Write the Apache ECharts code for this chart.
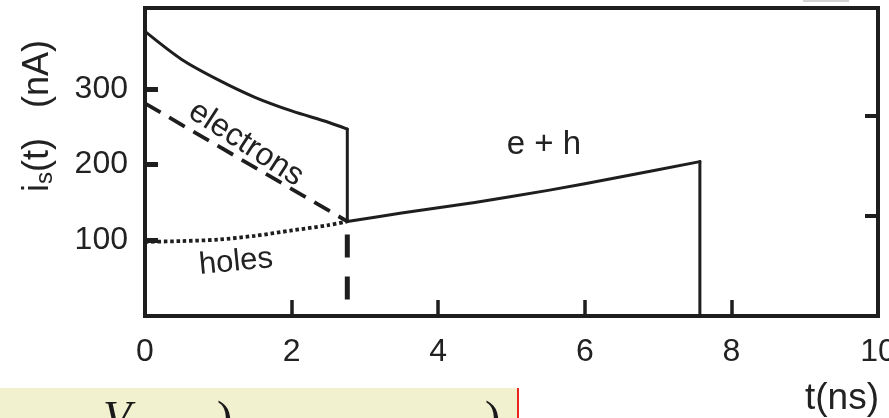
<!DOCTYPE html>
<html>
<head>
<meta charset="utf-8">
<script src="https://cdn.jsdelivr.net/npm/echarts@6/dist/echarts.min.js"></script>
<style>
  html, body { margin: 0; padding: 0; background: #ffffff; }
  #chart { width: 889px; height: 418px; }
</style>
</head>
<body>
<div id="chart"></div>
<script>
// Induced signal current i_s(t) of a detector: electrons + holes drifting, t in ns, i in nA
const xTickInterval = 2;
const leftTickValues = [100, 200, 300];
const rightTickValues = [132, 265];

// total current while both carriers drift
const totalEarly = [[0, 376], [0.5, 339], [1, 312], [1.5, 289], [2, 271], [2.5, 256], [2.76, 247]];
// electrons collected: current drops to the hole part
const electronExitDrop = [[2.76, 247], [2.76, 125]];
// e + h branch after the drop
const totalLate = [[2.76, 125], [3.5, 136], [4.5, 150], [5.5, 166], [6.5, 184], [7.57, 204]];
// holes collected: signal ends
const signalEnd = [[7.57, 204], [7.57, 0]];
// individual carrier contributions
const electrons = [[0, 281], [2.76, 125]];
const holes = [[0, 98], [0.5, 99], [1, 101], [1.5, 106], [2, 113], [2.5, 120], [2.76, 125]];
// marker of the electron collection time
const electronExitMarker = [[2.76, 125], [2.76, 0]];

const INK = '#1e1e1e';
const SANS = '"Liberation Sans Narrow", "Liberation Sans", sans-serif';

const chart = echarts.init(document.getElementById('chart'), null, { renderer: 'canvas' });

function solid(data, smooth) {
  return {
    type: 'line', data: data, symbol: 'none', silent: true,
    smooth: smooth ? 0.3 : false,
    lineStyle: { color: INK, width: 3, cap: 'round', join: 'round' }
  };
}

chart.setOption({
  animation: false,
  grid: {
    left: 145, right: 11, top: 8, bottom: 102,
    show: true, borderColor: INK, borderWidth: 4, backgroundColor: 'transparent',
    containLabel: false, outerBoundsMode: 'none'
  },
  xAxis: {
    type: 'value', min: 0, max: 10, interval: xTickInterval,
    axisLine: { show: false },
    axisTick: { show: true, inside: true, length: 16, lineStyle: { color: INK, width: 3.5 } },
    axisLabel: { fontSize: 32, fontFamily: SANS, color: '#222', margin: 20 },
    splitLine: { show: false }
  },
  yAxis: [
    {
      type: 'value', min: 0, max: 407, position: 'left',
      axisLine: { show: false },
      axisTick: { show: true, inside: true, length: 13, customValues: leftTickValues,
                  lineStyle: { color: INK, width: 5 } },
      axisLabel: { fontSize: 32, fontFamily: SANS, color: '#222', margin: 17,
                   customValues: leftTickValues },
      splitLine: { show: false }
    },
    {
      type: 'value', min: 0, max: 407, position: 'right',
      axisLine: { show: false },
      axisTick: { show: true, inside: true, length: 13, customValues: rightTickValues,
                  lineStyle: { color: INK, width: 4 } },
      axisLabel: { show: false },
      splitLine: { show: false }
    }
  ],
  series: [
    solid(totalEarly, true),
    solid(electronExitDrop, false),
    solid(totalLate, true),
    solid(signalEnd, false),
    {
      type: 'line', data: electrons, symbol: 'none', silent: true,
      lineStyle: { color: INK, width: 3.8, type: [18, 10] }
    },
    {
      type: 'line', data: holes, symbol: 'none', silent: true, smooth: 0.3,
      lineStyle: { color: INK, width: 3.8, type: [3.5, 2.8] }
    },
    {
      type: 'line', data: electronExitMarker, symbol: 'none', silent: true,
      lineStyle: { color: INK, width: 5, type: [23, 19], dashOffset: 29 }
    }
  ],
  graphic: [
    {
      type: 'text', x: 38, y: 116, rotation: Math.PI / 2, silent: true,
      style: {
        text: '{a|i}{b|s}{a|(t)   (nA)}',
        align: 'center', verticalAlign: 'middle',
        rich: {
          a: { fontSize: 36, fontFamily: '"Liberation Sans", sans-serif', fill: '#222' },
          b: { fontSize: 24, fontFamily: '"Liberation Sans", sans-serif', fill: '#222', padding: [14, 0, 0, 0] }
        }
      }
    },
    {
      type: 'text', x: 246, y: 144, rotation: -33 * Math.PI / 180, silent: true,
      style: { text: 'electrons', fontSize: 32, fontFamily: SANS, fill: '#222',
               align: 'center', verticalAlign: 'middle' }
    },
    {
      type: 'text', x: 236, y: 262, rotation: 5.5 * Math.PI / 180, silent: true,
      style: { text: 'holes', fontSize: 31, fontFamily: SANS, fill: '#222',
               align: 'center', verticalAlign: 'middle' }
    },
    {
      type: 'text', x: 544, y: 145, silent: true,
      style: { text: 'e + h', fontSize: 33, fontFamily: SANS, fill: '#222',
               align: 'center', verticalAlign: 'middle' }
    },
    {
      type: 'text', x: 842, y: 399, silent: true,
      style: { text: 't(ns)', fontSize: 37, fontFamily: '"Liberation Sans", sans-serif', fill: '#222',
               align: 'center', verticalAlign: 'middle' }
    },
    { type: 'rect', silent: true, shape: { x: 803, y: 0, width: 46, height: 2 }, style: { fill: '#d4d4d4' } },
    { type: 'rect', silent: true, shape: { x: 0, y: 388, width: 517, height: 30 }, style: { fill: '#f1f1cf' } },
    { type: 'rect', silent: true, shape: { x: 517, y: 388, width: 2, height: 30 }, style: { fill: '#e8261e' } },
    {
      type: 'text', x: 103, y: 398, silent: true,
      style: { text: 'V', fontSize: 46, fontStyle: 'italic', fontFamily: '"Liberation Serif", serif',
               fill: '#1a1a1a', align: 'left', verticalAlign: 'top' }
    },
    {
      type: 'text', x: 217, y: 398, silent: true,
      style: { text: ')', fontSize: 46, fontFamily: '"Liberation Serif", serif',
               fill: '#1a1a1a', align: 'left', verticalAlign: 'top' }
    },
    {
      type: 'text', x: 485, y: 398, silent: true,
      style: { text: ')', fontSize: 46, fontFamily: '"Liberation Serif", serif',
               fill: '#1a1a1a', align: 'left', verticalAlign: 'top' }
    }
  ]
});
</script>
</body>
</html>
